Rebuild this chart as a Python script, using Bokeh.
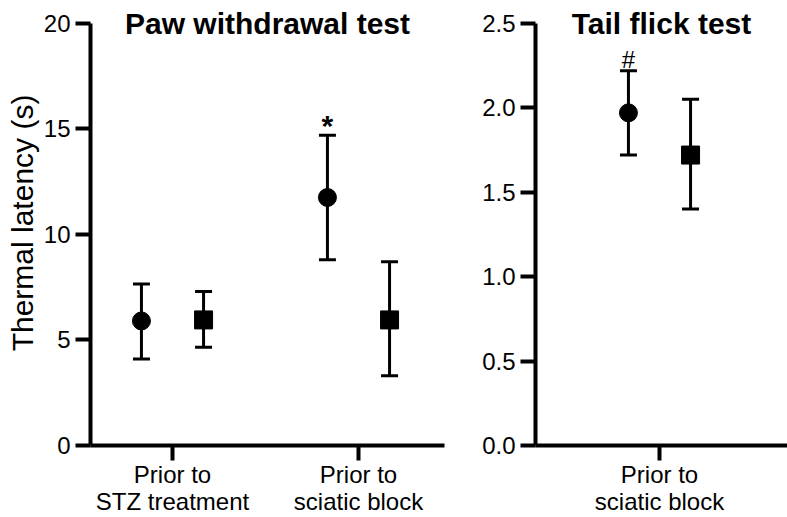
from bokeh.plotting import figure
from bokeh.models import Range1d, FixedTicker, NumeralTickFormatter, Whisker, TeeHead, ColumnDataSource, Label
from bokeh.layouts import row
from bokeh.embed import file_html
from bokeh.resources import INLINE
from bokeh.core.properties import value

FONT = "Liberation Sans"

# ---------------- data ----------------
# Paw withdrawal test (s)
paw_categories = ["Prior to\nSTZ treatment", "Prior to\nsciatic block"]
paw_circle_mean = [5.9, 11.75]
paw_circle_lower = [4.1, 8.8]
paw_circle_upper = [7.65, 14.7]
paw_square_mean = [5.95, 5.95]
paw_square_lower = [4.65, 3.3]
paw_square_upper = [7.3, 8.7]
paw_marks = ["", "*"]
paw_yticks = [0, 5, 10, 15, 20]

# Tail flick test (s)
tail_categories = ["Prior to\nsciatic block"]
tail_circle_mean = [1.97]
tail_circle_lower = [1.72]
tail_circle_upper = [2.22]
tail_square_mean = [1.72]
tail_square_lower = [1.40]
tail_square_upper = [2.05]
tail_marks = ["#"]
tail_yticks = [0.0, 0.5, 1.0, 1.5, 2.0, 2.5]

OFF = 0.167
H = 517
BOTTOM = 69


def panel(title, cats, cm, cl, cu, sm, sl, su, marks, yticks, fmt, width,
          xs, xe, border_left, border_right, ylabel, mark_font, mark_style, mark_dy):
    ymax = yticks[-1]
    frame_h = H - BOTTOM
    yend = ymax * frame_h / (frame_h - 23)
    p = figure(width=width, height=H, x_range=Range1d(xs, xe), y_range=Range1d(0, yend),
               output_backend="svg", toolbar_location=None,
               min_border_left=border_left, min_border_right=border_right,
               min_border_top=0, min_border_bottom=BOTTOM)
    p.outline_line_color = None
    p.xgrid.visible = False
    p.ygrid.visible = False
    p.background_fill_color = "white"
    p.border_fill_color = "white"

    pos = [i + 1 for i in range(len(cats))]
    csrc = ColumnDataSource(dict(x=[v - OFF for v in pos], y=cm, lo=cl, hi=cu, t=marks))
    ssrc = ColumnDataSource(dict(x=[v + OFF for v in pos], y=sm, lo=sl, hi=su))

    for src in (csrc, ssrc):
        w = Whisker(source=src, base="x", upper="hi", lower="lo", dimension="height",
                    line_width=3, line_color="black",
                    upper_head=TeeHead(size=17, line_width=3, line_color="black"),
                    lower_head=TeeHead(size=17, line_width=3, line_color="black"))
        w.level = "underlay"
        p.add_layout(w)

    p.scatter("x", "y", source=csrc, marker="circle", size=18, color="black")
    p.scatter("x", "y", source=ssrc, marker="square", size=18, color="black")

    p.text("x", "hi", text="t", source=csrc, text_font=value(FONT), text_font_size=mark_font,
           text_align="center", text_baseline="alphabetic", text_color="black",
           text_font_style=mark_style, y_offset=mark_dy)

    p.add_layout(Label(x=(xs + xe) / 2, y=ymax, text=title, text_align="center",
                       text_baseline="alphabetic", text_font=FONT,
                       text_font_size="30px", text_font_style="bold", text_color="black"))

    for ax in (p.xaxis[0], p.yaxis[0]):
        ax.axis_line_width = 4
        ax.axis_line_color = "black"
        ax.major_tick_line_width = 4
        ax.major_tick_line_color = "black"
        ax.major_tick_in = 0
        ax.major_tick_out = 15
        ax.minor_tick_line_color = None
        ax.major_label_text_font = FONT
        ax.major_label_text_color = "black"

    p.xaxis.ticker = FixedTicker(ticks=pos)
    p.xaxis.major_label_overrides = {v: c for v, c in zip(pos, cats)}
    p.xaxis.major_label_text_font_size = "24px"
    p.xaxis.major_label_text_line_height = 1.0
    p.xaxis.major_label_standoff = 0

    p.yaxis.ticker = FixedTicker(ticks=yticks)
    p.yaxis.bounds = (0, ymax)
    p.yaxis.formatter = NumeralTickFormatter(format=fmt)
    p.yaxis.major_label_text_font_size = "24px"
    p.yaxis.major_label_standoff = 5
    if ylabel:
        p.yaxis.axis_label = ylabel
        p.yaxis.axis_label_text_font = FONT
        p.yaxis.axis_label_text_font_size = "30px"
        p.yaxis.axis_label_text_font_style = "normal"
        p.yaxis.axis_label_text_color = "black"
        p.yaxis.axis_label_standoff = 2
    return p


p1 = panel("Paw withdrawal test", paw_categories, paw_circle_mean, paw_circle_lower, paw_circle_upper,
           paw_square_mean, paw_square_lower, paw_square_upper, paw_marks, paw_yticks, "0",
           460, 0.5591, 2.4624, 90, 16, "Thermal latency (s)", "30px", "bold", -10)
p2 = panel("Tail flick test", tail_categories, tail_circle_mean, tail_circle_lower, tail_circle_upper,
           tail_square_mean, tail_square_lower, tail_square_upper, tail_marks, tail_yticks, "0.0",
           327, 0.3333, 1.6882, 75, 0, None, "24px", "normal", -11)

layout = row(p1, p2)
open("out.html", "w").write(file_html(layout, INLINE))
